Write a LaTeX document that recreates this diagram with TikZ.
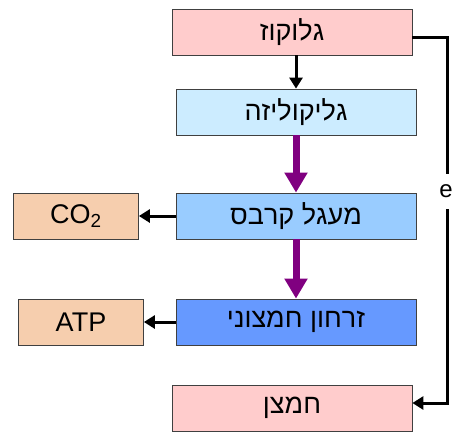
\documentclass[tikz,border=0pt]{standalone}
\usepackage{fontspec}
\setmainfont{Liberation Sans}
\TeXXeTstate=1
\usetikzlibrary{arrows.meta}
\definecolor{glucfill}{RGB}{255,204,204}
\definecolor{glycfill}{RGB}{204,236,255}
\definecolor{krebsfill}{RGB}{153,204,255}
\definecolor{etcfill}{RGB}{102,153,255}
\definecolor{prodfill}{RGB}{246,206,174}
\definecolor{stagepurple}{RGB}{128,0,128}

\begin{document}
\begin{tikzpicture}[x=1pt,y=-1pt,
  box/.style={draw=black!75, line width=0.8pt, minimum width=240pt, minimum height=46pt, inner sep=0pt, font=\fontsize{27}{30}\selectfont},
  prod/.style={box, fill=prodfill, minimum width=125pt},
  flow/.style={line width=3pt, -{Triangle[length=11pt,width=13pt]}},
  stage/.style={draw=stagepurple, line width=7pt, -{Triangle[length=20pt,width=22pt]}}]
\useasboundingbox (0,0) rectangle (453,432);
\node[box, fill=glucfill] (gluc) at (292,32) {\beginR גלוקוז\endR};
\node[box, fill=glycfill] (glyc) at (296,112) {\beginR גליקוליזה\endR};
\node[box, fill=krebsfill] (krebs) at (296,216) {\beginR מעגל קרבס\endR};
\node[box, fill=etcfill] (etc) at (296,322) {\beginR זרחון חמצוני\endR};
\node[box, fill=glucfill] (oxy) at (292,408) {\beginR חמצן\endR};
\node[prod] (co2) at (76,216) {CO\textsubscript{2}};
\node[prod] (atp) at (81,322) {ATP};
\draw[flow] (gluc.south -| glyc.north) -- (glyc.north);
\draw[stage] (glyc) -- (krebs);
\draw[stage] (krebs) -- (etc);
\draw[flow] (krebs) -- (co2);
\draw[flow] (etc) -- (atp);
\draw[flow] ([yshift=-5pt]gluc.east) -- ++(35,0) |- ([yshift=5pt]oxy.east);
\node[fill=white, minimum height=35pt, inner sep=1pt, font=\fontsize{24}{26}\selectfont] (e) at (446,191) {e};
\end{tikzpicture}
\end{document}
